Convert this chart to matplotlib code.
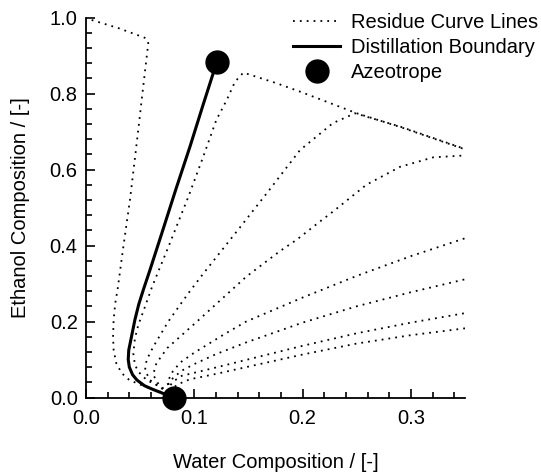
import matplotlib
matplotlib.use("Agg")
import matplotlib.pyplot as plt
from matplotlib.ticker import MultipleLocator

plt.rcParams['font.family'] = ['Liberation Sans', 'DejaVu Sans']

# residue curves (water x, ethanol y), starting at the lower azeotrope
RC1_X = [0.081, 0.070, 0.059, 0.050, 0.040, 0.033, 0.028, 0.0255, 0.025, 0.0255, 0.027, 0.0293,
         0.0345, 0.0406, 0.0452, 0.0489, 0.0521, 0.0575, 0.0565, 0.054, 0.030, 0.0]
RC1_Y = [0.0, 0.014, 0.024, 0.034, 0.046, 0.064, 0.090, 0.125, 0.160, 0.204, 0.248, 0.287,
         0.397, 0.520, 0.630, 0.720, 0.800, 0.932, 0.942, 0.947, 0.972, 0.998]

RC2_X = [0.081, 0.0714, 0.065, 0.056, 0.0483, 0.0452, 0.0437, 0.0452, 0.0483, 0.0545, 0.0606,
         0.0668, 0.0745, 0.0847, 0.0945, 0.1083, 0.1203, 0.130, 0.1376, 0.1453, 0.176, 0.1976,
         0.250, 0.290, 0.350]
RC2_Y = [0.0, 0.024, 0.033, 0.046, 0.068, 0.086, 0.116, 0.156, 0.191, 0.239, 0.288,
         0.332, 0.385, 0.458, 0.528, 0.634, 0.730, 0.783, 0.831, 0.855, 0.827, 0.805,
         0.748, 0.712, 0.653]

RC3_X = [0.081, 0.068, 0.059, 0.0545, 0.056, 0.0622, 0.076, 0.0884, 0.096, 0.1083, 0.130, 0.142,
         0.1668, 0.1976, 0.228, 0.2484, 0.290, 0.350]
RC3_Y = [0.0, 0.028, 0.046, 0.072, 0.099, 0.134, 0.200, 0.250, 0.280, 0.326, 0.404, 0.447,
         0.537, 0.651, 0.722, 0.748, 0.713, 0.654]

RC4_X = [0.081, 0.075, 0.068, 0.062, 0.065, 0.075, 0.0884, 0.1006, 0.148, 0.179, 0.1945, 0.216,
         0.2284, 0.259, 0.290, 0.3207, 0.350]
RC4_Y = [0.0, 0.015, 0.030, 0.060, 0.090, 0.130, 0.164, 0.195, 0.318, 0.385, 0.415, 0.463,
         0.490, 0.560, 0.607, 0.632, 0.637]

RC5_X = [0.081, 0.075, 0.080, 0.087, 0.100, 0.128, 0.148, 0.200, 0.250, 0.300, 0.350]
RC5_Y = [0.0, 0.040, 0.068, 0.092, 0.118, 0.167, 0.200, 0.263, 0.320, 0.372, 0.419]

RC6_X = [0.081, 0.076, 0.080, 0.088, 0.100, 0.120, 0.148, 0.200, 0.250, 0.300, 0.350]
RC6_Y = [0.0, 0.035, 0.050, 0.070, 0.088, 0.114, 0.145, 0.197, 0.240, 0.277, 0.311]

RC7_X = [0.081, 0.077, 0.082, 0.0884, 0.120, 0.148, 0.200, 0.250, 0.300, 0.350]
RC7_Y = [0.0, 0.030, 0.045, 0.057, 0.079, 0.099, 0.136, 0.169, 0.197, 0.222]

RC8_X = [0.081, 0.078, 0.085, 0.096, 0.120, 0.148, 0.200, 0.250, 0.300, 0.350]
RC8_Y = [0.0, 0.020, 0.035, 0.048, 0.062, 0.080, 0.113, 0.142, 0.164, 0.182]

# distillation boundary between the two azeotropes
BD_X = [0.081, 0.071, 0.062, 0.054, 0.047, 0.043, 0.040, 0.039, 0.0395, 0.042, 0.0452, 0.0487,
        0.0529, 0.059, 0.071, 0.083, 0.096, 0.108, 0.1207]
BD_Y = [0.0, 0.011, 0.021, 0.031, 0.046, 0.060, 0.080, 0.100, 0.125, 0.160, 0.205, 0.245,
        0.283, 0.335, 0.441, 0.548, 0.660, 0.769, 0.882]

AZ_X = [0.081, 0.1207]
AZ_Y = [0.0, 0.882]

curves = [(RC1_X, RC1_Y), (RC2_X, RC2_Y), (RC3_X, RC3_Y), (RC4_X, RC4_Y),
          (RC5_X, RC5_Y), (RC6_X, RC6_Y), (RC7_X, RC7_Y), (RC8_X, RC8_Y)]

fig = plt.figure(figsize=(5.41, 4.72), dpi=100)
ax = fig.add_axes([86 / 541, 74.5 / 472, 379 / 541, 380 / 472])

dotted = (0, (1, 2.8))
for i, (cx, cy) in enumerate(curves):
    ax.plot(cx, cy, color='black', lw=1.3, linestyle=dotted,
            label='Residue Curve Lines' if i == 0 else None)

ax.plot(BD_X, BD_Y, color='black', lw=2.2, label='Distillation Boundary', zorder=4)
ax.plot(AZ_X, AZ_Y, 'o', color='black', ms=16.5, clip_on=False, zorder=5, label='Azeotrope')

ax.set_xlim(0, 0.35)
ax.set_ylim(0, 1.0)
ax.xaxis.set_major_locator(MultipleLocator(0.1))
ax.xaxis.set_minor_locator(MultipleLocator(0.02))
ax.yaxis.set_major_locator(MultipleLocator(0.2))
ax.yaxis.set_minor_locator(MultipleLocator(0.04))
ax.xaxis.set_major_formatter(plt.FormatStrFormatter('%.1f'))
ax.yaxis.set_major_formatter(plt.FormatStrFormatter('%.1f'))

for side in ['top', 'right']:
    ax.spines[side].set_visible(False)
for side in ['left', 'bottom']:
    ax.spines[side].set_linewidth(1.3)

ax.tick_params(which='both', direction='in', width=1.2, labelsize=14.5)
ax.tick_params(which='major', length=6.5)
ax.tick_params(which='minor', length=4.3)
ax.tick_params(axis='x', which='major', pad=8)
ax.tick_params(axis='y', which='major', pad=6)

ax.set_xlabel('Water Composition / [-]', fontsize=14.5, labelpad=18)
ax.set_ylabel('Ethanol Composition / [-]', fontsize=14.5, labelpad=14)

ax.legend(loc='upper left', bbox_to_anchor=(293 / 541, 0.972), bbox_transform=fig.transFigure,
          frameon=False, borderpad=0, borderaxespad=0, handlelength=2.35, handletextpad=0.55,
          labelspacing=0.3, fontsize=14.5, numpoints=1)

fig.savefig('out.png', dpi=100)
